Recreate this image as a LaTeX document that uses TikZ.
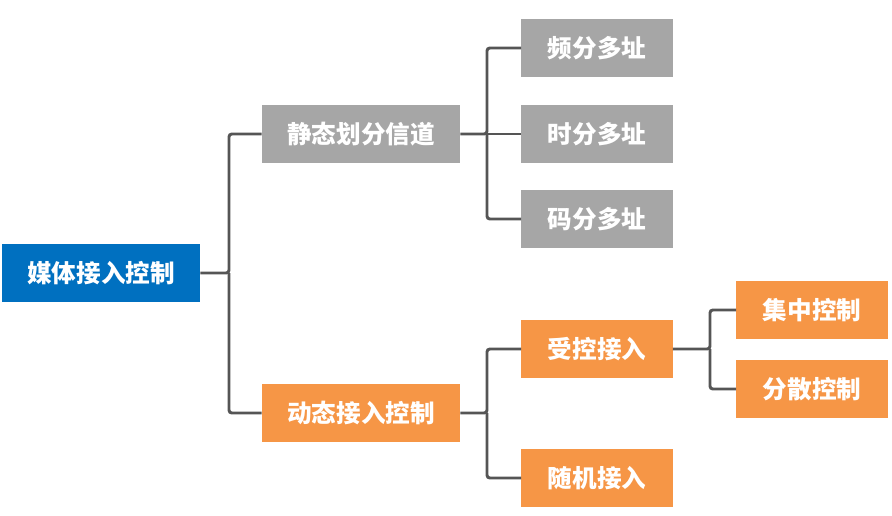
\documentclass[tikz,border=0pt]{standalone}
\usepackage{fontspec}
\newfontfamily\cjk{Noto Sans CJK SC}
\usetikzlibrary{positioning, calc}
\definecolor{rootblue}{RGB}{0,112,192}
\definecolor{boxgray}{RGB}{166,166,166}
\definecolor{boxorange}{RGB}{246,150,70}
\definecolor{linegray}{RGB}{85,85,85}

\begin{document}
\begin{tikzpicture}[
        x=0.025cm, y=-0.025cm,
        box/.style={minimum height=1.45cm, inner sep=0pt, align=center, text=white, font=\cjk\bfseries\fontsize{17.5}{20}\selectfont},
        bigbox/.style={box, minimum width=4.95cm},
        smallbox/.style={box, minimum width=3.78cm},
        conn/.style={draw=linegray, line width=2.1pt, rounded corners=2pt}
    ]
        \useasboundingbox (0,0) rectangle (892,515);

        \node[bigbox, fill=rootblue] (mac) at (101,273) {媒体接入控制};
        \node[bigbox, fill=boxgray] (static) at (361,134) {静态划分信道};
        \node[bigbox, fill=boxorange] (dynamic) at (361,413) {动态接入控制};

        \node[smallbox, fill=boxgray] (fdma) at (597,48) {频分多址};
        \node[smallbox, fill=boxgray] (tdma) at (597,134) {时分多址};
        \node[smallbox, fill=boxgray] (cdma) at (597,219) {码分多址};

        \node[smallbox, fill=boxorange] (ctrl) at (597,349) {受控接入};
        \node[smallbox, fill=boxorange] (rand) at (597,478) {随机接入};

        \node[smallbox, fill=boxorange] (central) at (812,310) {集中控制};
        \node[smallbox, fill=boxorange] (distrib) at (812,389) {分散控制};

        % bus points
        \coordinate (busA) at (229,273);
        \coordinate (busB) at (487,134);
        \coordinate (busC) at (487,413);
        \coordinate (busD) at (710,349);

        \draw[conn] (mac.east) -- (busA) |- (static.west);
        \draw[conn] (busA) |- (dynamic.west);

        \draw[conn] (static.east) -- (busB) |- (fdma.west);
        \draw[conn] (busB) -- (tdma.west);
        \draw[conn] (busB) |- (cdma.west);

        \draw[conn] (dynamic.east) -- (busC) |- (ctrl.west);
        \draw[conn] (busC) |- (rand.west);

        \draw[conn] (ctrl.east) -- (busD) |- (central.west);
        \draw[conn] (busD) |- (distrib.west);
    \end{tikzpicture}
\end{document}
